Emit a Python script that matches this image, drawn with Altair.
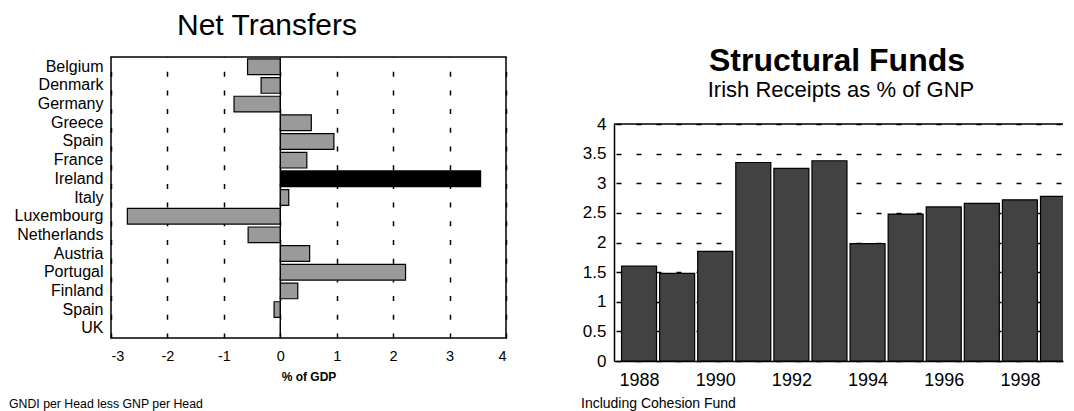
import altair as alt
import pandas as pd

FONT = "Liberation Sans"

# ---- Left chart data: Net Transfers (% of GDP)
countries = ["Belgium", "Denmark", "Germany", "Greece", "Spain", "France", "Ireland",
             "Italy", "Luxembourg", "Netherlands", "Austria", "Portugal", "Finland",
             "Spain", "UK"]
net_transfers = [-0.58, -0.34, -0.82, 0.55, 0.95, 0.47, 3.55, 0.15, -2.71, -0.57,
                 0.52, 2.22, 0.31, -0.11, 0.0]
x_ticks_left = [-3, -2, -1, 0, 1, 2, 3, 4]

# ---- Right chart data: Structural Funds, Irish receipts as % of GNP
years = [1988, 1989, 1990, 1991, 1992, 1993, 1994, 1995, 1996, 1997, 1998, 1999]
receipts = [1.6, 1.48, 1.85, 3.35, 3.25, 3.38, 1.98, 2.48, 2.6, 2.66, 2.72, 2.78]
year_ticks = [1988, 1990, 1992, 1994, 1996, 1998]
y_ticks_right = [0, 0.5, 1, 1.5, 2, 2.5, 3, 3.5, 4]

left_title = "Net Transfers"
left_xtitle = "% of GDP"
left_note = "GNDI per Head less GNP per Head"
right_title = "Structural Funds"
right_subtitle = "Irish Receipts as % of GNP"
right_note = "Including Cohesion Fund"

df_left = pd.DataFrame({"idx": list(range(len(countries))),
                        "country": countries, "value": net_transfers})
df_right = pd.DataFrame({"year": years, "value": receipts})

label_array = "[" + ",".join("'" + c + "'" for c in countries) + "]"

LW, LH = 395, 281
RW, RH = 449, 304      # right view spans title area + plot
R_TOP = 67             # where the value 4 sits inside the right view

# shared axis / scale definitions (reused so layers merge cleanly)
left_x_scale = alt.Scale(domain=[-3, 4], nice=False)
left_x_axis = alt.Axis(values=x_ticks_left, labelExpr="'' + datum.value",
                       title=left_xtitle, titleFontSize=12,
                       titleFontWeight="bold", titleColor="black", titlePadding=9,
                       labelFontSize=14.5, labelColor="black", labelPadding=11,
                       ticks=False, domain=False, grid=True, gridColor="black",
                       gridWidth=1.5, gridDash=[5, 13.7], gridOpacity=1,
                       labelFont=FONT, titleFont=FONT)

right_y_scale = alt.Scale(domain=[0, 4], nice=False, range=[RH, R_TOP])
right_y_axis = alt.Axis(values=y_ticks_right, format="~g", title=None, grid=True,
                        gridColor="black", gridWidth=1.5, gridDash=[5, 15],
                        gridDashOffset=18, gridOpacity=1, ticks=False,
                        labelFontSize=17, labelOverlap=False, labelColor="black",
                        labelPadding=8, domainColor="black", domainWidth=1.5,
                        labelFont=FONT)

bars_left = alt.Chart(df_left).mark_bar(stroke="black", strokeWidth=1.2).encode(
    y=alt.Y("idx:O",
            scale=alt.Scale(paddingInner=0.16, paddingOuter=0.1),
            axis=alt.Axis(title=None, labelExpr=label_array + "[datum.value]",
                          labelFontSize=16, labelColor="black", labelPadding=8,
                          ticks=False, domain=False, labelFont=FONT)),
    x=alt.X("value:Q", scale=left_x_scale, axis=left_x_axis),
    fill=alt.condition(alt.datum.country == "Ireland", alt.value("black"),
                       alt.value("#9a9a9a")),
)

zero_rule = alt.Chart(pd.DataFrame({"value": [0]})).mark_rule(
    color="black", strokeWidth=1).encode(
    x=alt.X("value:Q", scale=left_x_scale, axis=left_x_axis))

lt = alt.Chart(pd.DataFrame({"t": [left_title]})).mark_text(
    font=FONT, fontSize=30, align="center", baseline="middle", color="black"
).encode(text="t:N", x=alt.value(156), y=alt.value(-31))

ln = alt.Chart(pd.DataFrame({"t": [left_note]})).mark_text(
    font=FONT, fontSize=12.3, align="left", baseline="middle", color="black"
).encode(text="t:N", x=alt.value(-102), y=alt.value(347))

left_spacer = alt.Chart(pd.DataFrame({"t": ["."]})).mark_text(
    font=FONT, fontSize=4, align="left", baseline="top", color="white"
).encode(text="t:N", x=alt.value(0), y=alt.value(-48))

left = alt.layer(bars_left, zero_rule, lt, ln, left_spacer).properties(
    width=LW, height=LH,
    view=alt.ViewBackground(stroke="black", strokeWidth=1.5))

# ---- Right chart
bars_right = alt.Chart(df_right).mark_bar(
    size=35, fill="#424242", stroke="black", strokeWidth=1.2, clip=True).encode(
    x=alt.X("year:Q",
            scale=alt.Scale(domain=[1987.474, 1999.0], nice=False, zero=False),
            axis=alt.Axis(values=year_ticks, format="d", title=None, grid=False,
                          ticks=False, labelFontSize=18, labelColor="black",
                          labelPadding=10, domainColor="black", domainWidth=1.5,
                          labelFont=FONT)),
    y=alt.Y("value:Q", scale=right_y_scale, axis=right_y_axis),
)

top_rule = alt.Chart(pd.DataFrame({"value": [4]})).mark_rule(
    color="black", strokeWidth=1.5).encode(
    y=alt.Y("value:Q", scale=right_y_scale, axis=right_y_axis))

rt = alt.Chart(pd.DataFrame({"t": [right_title]})).mark_text(
    font=FONT, fontSize=32, fontWeight="bold", align="center", baseline="middle",
    color="black").encode(text="t:N", x=alt.value(223), y=alt.value(4))

rs = alt.Chart(pd.DataFrame({"t": [right_subtitle]})).mark_text(
    font=FONT, fontSize=22, align="center", baseline="middle", color="black"
).encode(text="t:N", x=alt.value(227), y=alt.value(33))

rn = alt.Chart(pd.DataFrame({"t": [right_note]})).mark_text(
    font=FONT, fontSize=14, align="left", baseline="middle", color="black"
).encode(text="t:N", x=alt.value(-33), y=alt.value(347))

right = alt.layer(bars_right, top_rule, rt, rs, rn).properties(
    width=RW, height=RH,
    view=alt.ViewBackground(stroke="transparent"))

chart = alt.hconcat(left, right, spacing=73).properties(
    padding={"left": 0, "right": 0, "top": 0, "bottom": 0},
    background="white",
).configure(font=FONT)

chart.save("out.html", embed_options={"renderer": "svg", "actions": False})
